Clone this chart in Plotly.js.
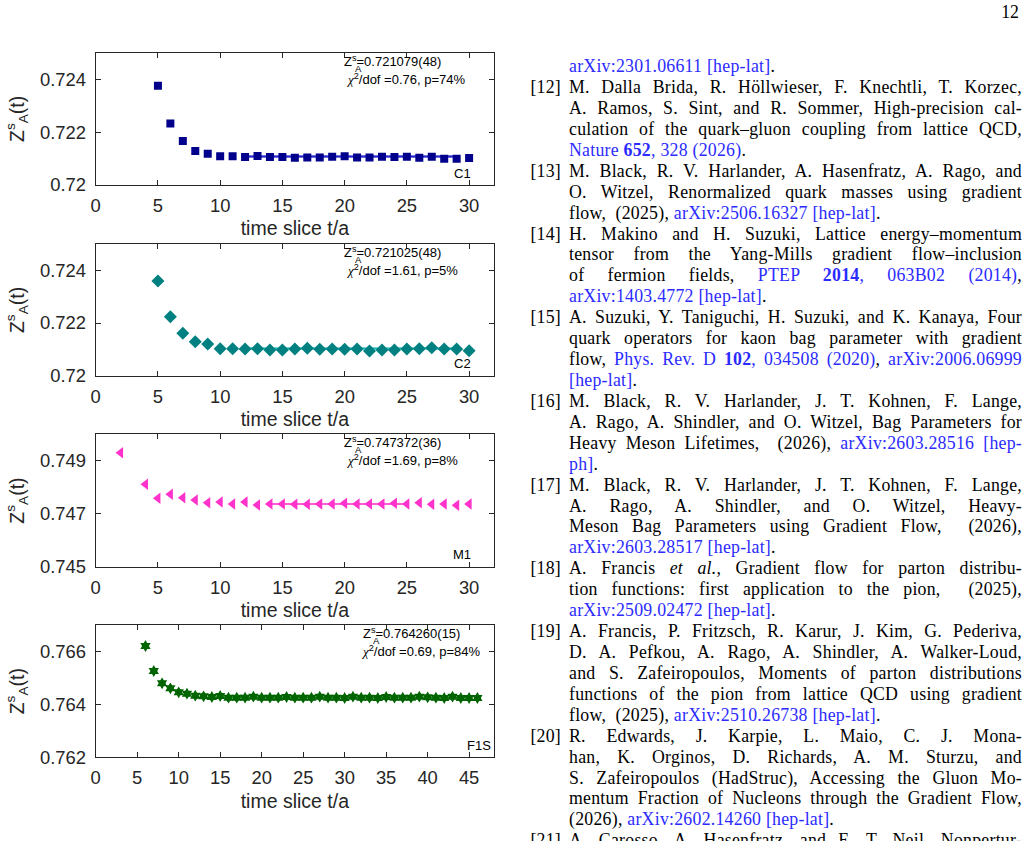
<!DOCTYPE html>
<html><head><meta charset="utf-8">
<script src="https://cdn.plot.ly/plotly-3.0.1.min.js"></script>
<style>
html,body{margin:0;padding:0;width:1028px;height:841px;overflow:hidden;background:#fff}
#plot{position:absolute;left:0;top:0;width:1028px;height:841px}
#refs{position:absolute;left:569px;top:56.2px;width:453px;font-family:'Liberation Serif','Times New Roman',serif;font-size:17.8px;line-height:20.925px;color:#000;letter-spacing:0.25px}
.ln{position:relative;height:20.925px;white-space:nowrap;text-align:justify;text-align-last:justify}
.ln.last{text-align:left;text-align-last:left}
.num{position:absolute;left:-42px;width:34px;text-align:right;text-align-last:right}
.l{color:#2b2bff}
#pg{position:absolute;right:9px;top:2px;font-family:'Liberation Serif',serif;font-size:17.8px;color:#000}
</style>
</head><body>
<div id="plot"></div>
<div id="pg">12</div>
<div id="refs"></div>
<script>
// ---------------- data ----------------
const tC1 = [5,6,7,8,9,10,11,12,13,14,15,16,17,18,19,20,21,22,23,24,25,26,27,28,29,30];
const zC1 = [0.723747,0.722328,0.721660,0.721283,0.721180,0.721082,0.721082,0.721057,0.721094,0.721057,0.721057,0.721031,0.721044,0.721044,0.721069,0.721082,0.721044,0.721044,0.721069,0.721057,0.721069,0.721031,0.721069,0.720994,0.720994,0.721019];
const eC1 = [0.00005,0.00004,0.00004,0.00004,0.00004,0.00004,0.00004,0.00004,0.00004,0.00004,0.00004,0.00004,0.00004,0.00004,0.00004,0.00004,0.00004,0.00004,0.00004,0.00004,0.00004,0.00004,0.00004,0.00004,0.00004,0.00004];
const fitC1 = {value:0.721079, err:0.000048, from:12, to:29};

const tC2 = [5,6,7,8,9,10,11,12,13,14,15,16,17,18,19,20,21,22,23,24,25,26,27,28,29,30];
const zC2 = [0.723601,0.722242,0.721607,0.721289,0.721200,0.721023,0.721023,0.721010,0.721023,0.720972,0.720972,0.721010,0.721035,0.720997,0.721010,0.720997,0.721010,0.720934,0.720972,0.720972,0.721010,0.721023,0.721061,0.721010,0.721010,0.720946];
const eC2 = [0.00006,0.00005,0.00005,0.00005,0.00005,0.00005,0.00005,0.00005,0.00005,0.00005,0.00005,0.00005,0.00005,0.00005,0.00005,0.00005,0.00005,0.00005,0.00005,0.00005,0.00005,0.00005,0.00005,0.00005,0.00005,0.00005];
const fitC2 = {value:0.721025, err:0.000048, from:12, to:29};

const tM1 = [2,4,5,6,7,8,9,10,11,12,13,14,15,16,17,18,19,20,21,22,23,24,25,26,27,28,29,30];
const zM1 = [0.749306,0.748111,0.747582,0.747733,0.747607,0.747519,0.747418,0.747443,0.747368,0.747443,0.747330,0.747368,0.747368,0.747355,0.747355,0.747368,0.747368,0.747393,0.747368,0.747368,0.747368,0.747393,0.747368,0.747418,0.747355,0.747368,0.747317,0.747368];
const eM1 = [0.00004,0.00004,0.00004,0.00004,0.00004,0.00004,0.00004,0.00004,0.00004,0.00004,0.00004,0.00004,0.00004,0.00004,0.00004,0.00004,0.00004,0.00004,0.00004,0.00004,0.00004,0.00004,0.00004,0.00004,0.00004,0.00004,0.00004,0.00004];
const fitM1 = {value:0.747372, err:0.000036, from:14, to:25};

const tF1S = [6,7,8,9,10,11,12,13,14,15,16,17,18,19,20,21,22,23,24,25,26,27,28,29,30,31,32,33,34,35,36,37,38,39,40,41,42,43,44,45,46];
const zF1S = [0.766206,0.765262,0.764796,0.764607,0.764455,0.764405,0.764329,0.764304,0.764279,0.764317,0.764254,0.764254,0.764254,0.764291,0.764254,0.764254,0.764254,0.764279,0.764254,0.764254,0.764254,0.764291,0.764254,0.764254,0.764241,0.764291,0.764254,0.764254,0.764241,0.764279,0.764254,0.764254,0.764254,0.764291,0.764266,0.764254,0.764241,0.764291,0.764241,0.764241,0.764241];
const eF1S = [0.00008,0.00007,0.00007,0.00007,0.00007,0.00007,0.00007,0.00007,0.00007,0.00007,0.00007,0.00007,0.00007,0.00007,0.00007,0.00007,0.00007,0.00007,0.00007,0.00007,0.00007,0.00007,0.00007,0.00007,0.00007,0.00007,0.00007,0.00007,0.00007,0.00007,0.00007,0.00007,0.00007,0.00007,0.00007,0.00007,0.00007,0.00007,0.00007,0.00007,0.00007];
const fitF1S = {value:0.764260, err:0.000015, from:12, to:45};

const xTicks1 = [0,5,10,15,20,25,30];
const xTicks4 = [0,5,10,15,20,25,30,35,40,45];
const yTicksC = [0.72,0.722,0.724];   const yTextC = ['0.72','0.722','0.724'];
const yTicksM = [0.745,0.747,0.749];  const yTextM = ['0.745','0.747','0.749'];
const yTicksF = [0.762,0.764,0.766];  const yTextF = ['0.762','0.764','0.766'];

const ensembleNames = ['C1','C2','M1','F1S'];
const fitTexts = [
  ['0.721079(48)','0.76','74%'],
  ['0.721025(48)','1.61','5%'],
  ['0.747372(36)','1.69','8%'],
  ['0.764260(15)','0.69','84%']
];

// ---------------- plot ----------------
const W = 1028, H = 841;
const xDom = [95.7/W, 494/W];
const yPix = [[52.7,185],[244.3,375.5],[434.3,566.7],[625,757.3]];
const yDoms = yPix.map(p => [1 - p[1]/H, 1 - p[0]/H]);

const series = [
  {t:tC1, z:zC1, e:eC1, fit:fitC1, sym:'square', size:8, color:'rgb(0,0,140)', fitColor:'rgb(40,40,205)', bandColor:'rgba(90,90,230,0.55)'},
  {t:tC2, z:zC2, e:eC2, fit:fitC2, sym:'diamond', size:10, color:'rgb(0,128,128)', fitColor:'rgb(40,185,185)', bandColor:'rgba(90,210,210,0.6)'},
  {t:tM1, z:zM1, e:eM1, fit:fitM1, sym:'triangle-left', size:10, color:'rgb(255,51,204)', fitColor:'rgb(255,90,215)', bandColor:'rgba(255,140,230,0.6)'},
  {t:tF1S, z:zF1S, e:eF1S, fit:fitF1S, sym:'hexagram', size:9, color:'rgb(0,100,0)', fitColor:'rgb(30,140,30)', bandColor:'rgba(60,170,60,0.5)'}
];

const traces = [];
series.forEach((s, i) => {
  const xa = i === 0 ? 'x' : 'x' + (i+1);
  const ya = i === 0 ? 'y' : 'y' + (i+1);
  const f = s.fit;
  traces.push({x:[f.from,f.to,f.to,f.from], y:[f.value-f.err,f.value-f.err,f.value+f.err,f.value+f.err],
    xaxis:xa, yaxis:ya, mode:'lines', fill:'toself', fillcolor:s.bandColor, line:{width:0}, hoverinfo:'skip'});
  traces.push({x:[f.from,f.to], y:[f.value,f.value], xaxis:xa, yaxis:ya, mode:'lines',
    line:{color:s.fitColor, width:2}, hoverinfo:'skip'});
  traces.push({x:s.t, y:s.z, xaxis:xa, yaxis:ya, mode:'markers',
    marker:{symbol:s.sym, size:s.size, color:s.color, line:{width:0}},
    error_y:{type:'data', array:s.e, visible:true, color:s.color, thickness:1.5, width:2}});
});

const axisFont = {family:'Liberation Sans, Arial, sans-serif', size:18.4, color:'#262626'};
const baseAxis = {showline:true, linecolor:'#262626', linewidth:1, mirror:'ticks', ticks:'inside', ticklen:5,
  tickwidth:1, tickcolor:'#262626', showgrid:false, zeroline:false, tickfont:axisFont, fixedrange:true};

const layout = {width:W, height:H, margin:{l:0,r:0,t:0,b:0}, showlegend:false,
  paper_bgcolor:'#fff', plot_bgcolor:'#fff', font:{family:'Liberation Sans, Arial, sans-serif', color:'#262626'},
  annotations:[]};

const yTickSets = [[yTicksC,yTextC],[yTicksC,yTextC],[yTicksM,yTextM],[yTicksF,yTextF]];
for (let i = 0; i < 4; i++) {
  const k = i === 0 ? '' : String(i+1);
  const xt = i === 3 ? xTicks4 : xTicks1;
  const yr = [yTickSets[i][0][0], yTickSets[i][0][0] + 0.005];
  layout['xaxis'+k] = Object.assign({}, baseAxis, {domain:xDom, anchor:'y'+k,
    range: i === 3 ? [0,48] : [0,32], tickvals:xt, ticktext:xt.map(String), ticklabelstandoff:4,
    title:{text:'time slice t/a', font:{family:'Liberation Sans, Arial, sans-serif', size:19.5, color:'#262626'}, standoff:6}});
  layout['yaxis'+k] = Object.assign({}, baseAxis, {domain:yDoms[i], anchor:'x'+k, range:yr,
    tickvals:yTickSets[i][0], ticktext:yTickSets[i][1], ticklabelstandoff:5,
    title:{text:'Z<sup>s</sup><sub>A</sub>(t)', font:{family:'Liberation Sans, Arial, sans-serif', size:19.5, color:'#262626'}, standoff:10}});

  const xr = 'x'+k+' domain', yrf = 'y'+k+' domain';
  const ph = yPix[i][1] - yPix[i][0];
  const x1 = i === 3 ? 0.668 : 0.6216;
  const x2 = i === 3 ? 0.6636 : 0.626;
  const tf = fitTexts[i];
  const af = {family:'Liberation Sans, Arial, sans-serif', size:13, color:'#000'};
  layout.annotations.push({xref:xr, yref:yrf, x:x1, y:1 - 8/ph, xanchor:'left', yanchor:'middle', showarrow:false,
    text:'Z<sup>s</sup>=' + tf[0], font:af, borderpad:0});
  layout.annotations.push({xref:xr, yref:yrf, x:x1 + 0.026, y:1 - 15.5/ph, xanchor:'left', yanchor:'middle', showarrow:false,
    text:'A', font:{family:af.family, size:9.5, color:'#000'}, borderpad:0});
  layout.annotations.push({xref:xr, yref:yrf, x:x2, y:1 - 26/ph, xanchor:'left', yanchor:'middle', showarrow:false,
    text:'<span style="font-family:Liberation Serif;font-style:italic">χ</span><sup>2</sup>/dof =' + tf[1] + ', p=' + tf[2], font:af, borderpad:0});
  layout.annotations.push({xref:xr, yref:yrf, x: i === 3 ? 0.994 : 0.945, y:12/ph, xanchor:'right', yanchor:'middle', showarrow:false,
    text:ensembleNames[i], font:af, borderpad:0});
}

Plotly.newPlot('plot', traces, layout, {staticPlot:true, displayModeBar:false});

// ---------------- reference list text ----------------
const refLines = [
 {t:'<span class="l">arXiv:2301.06611 [hep-lat]</span>.', last:true},
 {n:'[12]', t:'M. Dalla Brida, R. Höllwieser, F. Knechtli, T. Korzec,'},
 {t:'A. Ramos, S. Sint, and R. Sommer, High-precision cal-'},
 {t:'culation of the quark–gluon coupling from lattice QCD,'},
 {t:'<span class="l">Nature <b>652</b>, 328 (2026)</span>.', last:true},
 {n:'[13]', t:'M. Black, R. V. Harlander, A. Hasenfratz, A. Rago, and'},
 {t:'O. Witzel, Renormalized quark masses using gradient'},
 {t:'flow,&nbsp; (2025), <span class="l">arXiv:2506.16327 [hep-lat]</span>.', last:true},
 {n:'[14]', t:'H. Makino and H. Suzuki, Lattice energy–momentum'},
 {t:'tensor from the Yang-Mills gradient flow–inclusion'},
 {t:'of fermion fields, <span class="l">PTEP <b>2014</b>, 063B02 (2014)</span>,'},
 {t:'<span class="l">arXiv:1403.4772 [hep-lat]</span>.', last:true},
 {n:'[15]', t:'A. Suzuki, Y. Taniguchi, H. Suzuki, and K. Kanaya, Four'},
 {t:'quark operators for kaon bag parameter with gradient'},
 {t:'flow, <span class="l">Phys. Rev. D <b>102</b>, 034508 (2020)</span>, <span class="l">arXiv:2006.06999</span>'},
 {t:'<span class="l">[hep-lat]</span>.', last:true},
 {n:'[16]', t:'M. Black, R. V. Harlander, J. T. Kohnen, F. Lange,'},
 {t:'A. Rago, A. Shindler, and O. Witzel, Bag Parameters for'},
 {t:'Heavy Meson Lifetimes,&nbsp; (2026), <span class="l">arXiv:2603.28516 [hep-</span>'},
 {t:'<span class="l">ph]</span>.', last:true},
 {n:'[17]', t:'M. Black, R. V. Harlander, J. T. Kohnen, F. Lange,'},
 {t:'A. Rago, A. Shindler, and O. Witzel, Heavy-'},
 {t:'Meson Bag Parameters using Gradient Flow,&nbsp; (2026),'},
 {t:'<span class="l">arXiv:2603.28517 [hep-lat]</span>.', last:true},
 {n:'[18]', t:'A. Francis <i>et al.</i>, Gradient flow for parton distribu-'},
 {t:'tion functions: first application to the pion,&nbsp; (2025),'},
 {t:'<span class="l">arXiv:2509.02472 [hep-lat]</span>.', last:true},
 {n:'[19]', t:'A. Francis, P. Fritzsch, R. Karur, J. Kim, G. Pederiva,'},
 {t:'D. A. Pefkou, A. Rago, A. Shindler, A. Walker-Loud,'},
 {t:'and S. Zafeiropoulos, Moments of parton distributions'},
 {t:'functions of the pion from lattice QCD using gradient'},
 {t:'flow,&nbsp; (2025), <span class="l">arXiv:2510.26738 [hep-lat]</span>.', last:true},
 {n:'[20]', t:'R. Edwards, J. Karpie, L. Maio, C. J. Mona-'},
 {t:'han, K. Orginos, D. Richards, A. M. Sturzu, and'},
 {t:'S. Zafeiropoulos (HadStruc), Accessing the Gluon Mo-'},
 {t:'mentum Fraction of Nucleons through the Gradient Flow,'},
 {t:'(2026), <span class="l">arXiv:2602.14260 [hep-lat]</span>.', last:true},
 {n:'[21]', t:'A. Carosso, A. Hasenfratz, and E. T. Neil, Nonpertur-'}
];
const refs = document.getElementById('refs');
refs.innerHTML = refLines.map(r =>
  '<div class="ln' + (r.last ? ' last' : '') + '">' + (r.n ? '<span class="num">' + r.n + '</span>' : '') + r.t + '</div>'
).join('');
</script>
</body></html>
